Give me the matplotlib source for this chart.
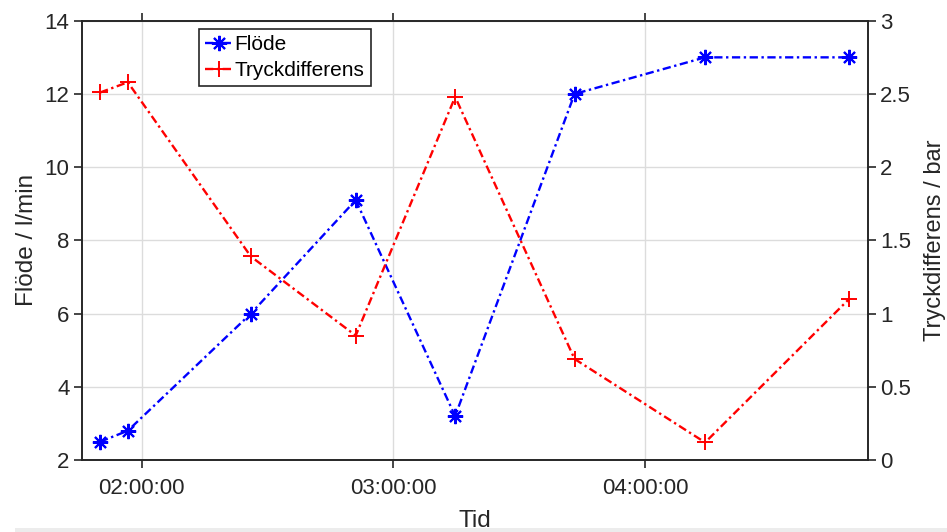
import datetime as dt

import matplotlib
matplotlib.use("Agg")
import matplotlib.pyplot as plt
import matplotlib.dates as mdates
from matplotlib.patches import Rectangle

plt.rcParams['font.family'] = ['Liberation Sans', 'DejaVu Sans']

# sample times (hh:mm:ss)
times = ["01:50:04", "01:56:40", "02:26:00", "02:51:00",
         "03:14:42", "03:43:10", "04:14:17", "04:48:37"]
flow = [2.5, 2.8, 6.0, 9.1, 3.2, 12.0, 13.0, 13.0]
dp = [2.51, 2.58, 1.39, 0.85, 2.48, 0.69, 0.12, 1.10]
xtick_times = ["02:00:00", "03:00:00", "04:00:00"]
xlim_times = ["01:45:45", "04:53:03"]


def to_dt(s):
    h, m, sec = (int(v) for v in s.split(":"))
    return dt.datetime(2020, 1, 1, h, m, sec)


t = [to_dt(s) for s in times]
tc = '#262626'
dashdot = (0, (3.5, 1.5, 1, 1.5))

fig = plt.figure(figsize=(9.47, 5.32), dpi=100)
fig.patches.append(Rectangle((15 / 947, 0), 1, 4 / 532, transform=fig.transFigure,
                             facecolor='#ececec', edgecolor='none'))
ax = fig.add_axes([0.0866, 0.1353, 0.8297, 0.8257])
ax2 = ax.twinx()

l1, = ax.plot(t, flow, linestyle=dashdot, color='blue', marker=(8, 2, 0),
              markersize=11, mew=1.5, lw=1.7, label='Flöde')
l2, = ax2.plot(t, dp, linestyle=dashdot, color='red', marker='+', markersize=12,
               mew=1.4, lw=1.7, label='Tryckdifferens')

ax.set_ylim(2, 14)
ax.set_yticks(range(2, 15, 2))
ax2.set_ylim(0, 3)
ax2.set_yticks([0, 0.5, 1, 1.5, 2, 2.5, 3])
ax2.set_yticklabels(['0', '0.5', '1', '1.5', '2', '2.5', '3'])

ax.set_xlim(to_dt(xlim_times[0]), to_dt(xlim_times[1]))
ax.set_xticks([to_dt(s) for s in xtick_times])
ax.xaxis.set_major_formatter(mdates.DateFormatter('%H:%M:%S'))

ax.grid(True, color='#dcdcdc', lw=1.0)
ax.set_axisbelow(True)

for a in (ax, ax2):
    for sp in a.spines.values():
        sp.set_color(tc)
        sp.set_linewidth(1.2)
ax.tick_params(axis='x', direction='out', length=6, width=1.2, colors=tc,
               labelsize=16, top=True, pad=7)
ax.tick_params(axis='y', direction='out', length=6, width=1.2, colors=tc,
               labelsize=16, right=False, pad=3)
ax2.tick_params(axis='y', direction='out', length=6, width=1.2, colors=tc,
                labelsize=16, pad=3)

ax.set_xlabel('Tid', fontsize=17.5, color=tc, labelpad=8)
ax.set_ylabel('Flöde / l/min', fontsize=17.5, color=tc, labelpad=5)
ax2.set_ylabel('Tryckdifferens / bar', fontsize=17, color=tc, labelpad=9)

leg = ax2.legend(handles=[l1, l2], loc='upper left', bbox_to_anchor=(0.149, 0.982),
                 fontsize=15, fancybox=False, framealpha=1, edgecolor=tc,
                 handlelength=1.3, handletextpad=0.1, borderpad=0.3,
                 labelspacing=0.35, borderaxespad=0)
leg.get_frame().set_linewidth(1.2)

fig.savefig('out.png', dpi=100)
